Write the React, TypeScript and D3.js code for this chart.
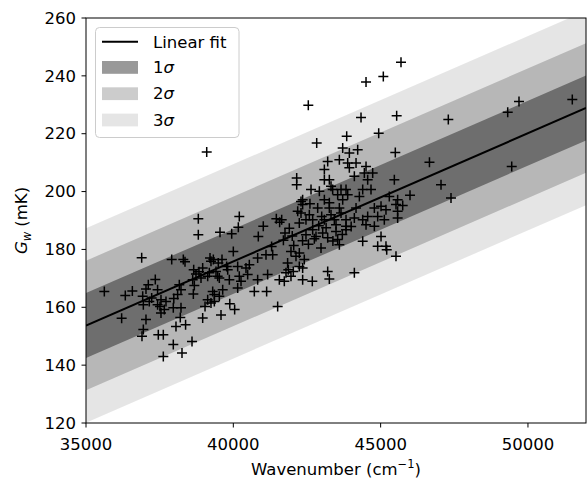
import React from 'react';
import * as d3 from 'd3';

// measured wavenumbers (cm^-1) and widths G_w (mK)
const waveNumbers = [
  35622, 36210, 36334, 36573, 36890, 36924, 36946, 37036, 37115, 36946,
  36900, 37036, 37148, 37229, 37352, 37430, 37430, 37454, 37545, 37511,
  37545, 37624, 37624, 37658, 37715, 37909, 37963, 37980, 37963, 38054,
  38110, 38167, 38224, 38224, 38200, 38380, 38258, 38598, 38360, 38303,
  38655, 38733, 38621, 38677, 38643, 38835, 38812, 38812, 38960, 39040,
  38903, 38960, 39097, 39130, 39186, 39209, 39322, 39412, 39469, 39525,
  39242, 39548, 39491, 39616, 39775, 39809, 39865, 39130, 39356, 39300,
  39639, 39525, 39242, 39356, 39582, 39880, 40045, 39945, 40000, 40203,
  40170, 40148, 40203, 40148, 40430, 40543, 40487, 40261, 40713, 40826,
  40826, 40848, 41017, 41109, 41336, 41165, 41131, 41505, 41460, 41572,
  41562, 41731, 41788, 41866, 42036, 41843, 41957, 41754, 41642, 41957,
  42127, 42151, 42151, 42297, 42185, 42353, 42353, 42353, 42353, 42297,
  42580, 42240, 42466, 42693, 42693, 42466, 42806, 42409, 42240, 42240,
  42637, 42920, 42863, 42545, 42830, 42681, 42976, 43090, 43203, 43090,
  43259, 43316, 43372, 43090, 43259, 43259, 43090, 43033, 43203, 43316,
  43429, 43486, 43486, 43542, 43599, 43203, 43259, 43542, 43599, 43655,
  43655, 43712, 43599, 43712, 43848, 43938, 43882, 43938, 43825, 43882,
  43825, 43825, 43825, 44221, 44165, 44108, 44504, 44447, 44730, 44560,
  44391, 44673, 44278, 44165, 44787, 44108, 44391, 44560, 44900, 44504,
  44787, 44391, 44900, 44108, 44334, 44504, 44934, 45091, 45691, 45544,
  45498, 45465, 45013, 45181, 45521, 45577, 45577, 45294, 45577, 45125,
  45013, 45181, 45206, 45521, 45749, 45997, 46657, 47049, 47388, 47297,
  49313, 49696, 51505, 49449,
  41300, 41700, 42000, 42550, 42900, 43150, 43380, 42750, 43000, 42350,
  41900, 42600, 43700, 44000, 42050,
];
const gwValues = [
  165.5, 156.2, 164.1, 165.6, 177.1, 163.8, 160.9, 166.3, 167.8, 152.3,
  150.0, 155.8, 162.0, 163.2, 169.6, 166.1, 160.9, 150.5, 162.6, 160.3,
  158.0, 150.5, 143.0, 159.2, 162.0, 176.5, 147.1, 163.0, 159.8, 153.4,
  164.4, 167.8, 166.1, 159.8, 156.5, 154.0, 144.2, 148.2, 175.7, 176.5,
  173.0, 171.5, 169.5, 167.5, 164.6, 172.3, 185.1, 190.6, 156.3, 160.3,
  170.1, 173.6, 213.7, 170.7, 171.9, 177.0, 176.5, 172.4, 170.7, 170.1,
  175.9, 185.9, 175.3, 176.5, 174.1, 173.0, 169.5, 162.6, 164.4, 165.5,
  166.1, 163.8, 161.5, 162.0, 157.3, 161.2, 159.2, 185.4, 179.3, 191.4,
  187.7, 174.1, 170.7, 166.7, 173.6, 174.7, 171.3, 169.0, 165.5, 169.5,
  177.0, 184.5, 188.0, 178.2, 178.2, 171.3, 165.5, 160.3, 190.6, 189.4,
  169.5, 169.0, 171.9, 173.0, 172.4, 175.3, 179.3, 185.7, 190.3, 170.7,
  177.6, 204.7, 202.4, 196.6, 193.2, 173.6, 169.5, 197.2, 195.5, 192.6,
  192.0, 189.1, 190.3, 190.3, 186.8, 185.1, 184.5, 176.5, 178.8, 174.1,
  200.7, 200.1, 194.3, 229.8, 216.8, 169.0, 180.5, 207.6, 210.4, 204.1,
  204.1, 201.8, 200.7, 197.2, 196.1, 194.3, 190.3, 185.7, 184.0, 192.0,
  190.3, 188.5, 186.2, 183.4, 181.6, 172.4, 169.8, 198.9, 194.3, 192.6,
  200.7, 197.2, 211.0, 215.1, 219.1, 213.3, 209.9, 208.2, 200.7, 198.9,
  190.3, 188.0, 186.8, 214.5, 209.9, 205.3, 208.7, 206.4, 206.4, 204.1,
  200.7, 200.7, 198.3, 194.3, 194.3, 190.9, 190.3, 191.4, 191.4, 188.5,
  188.0, 182.8, 181.1, 171.9, 225.6, 237.9, 220.2, 239.8, 244.7, 226.2,
  213.5, 204.1, 194.9, 193.7, 195.5, 193.2, 190.9, 198.3, 197.2, 190.3,
  184.5, 181.1, 179.9, 177.6, 195.2, 198.7, 210.1, 202.4, 197.8, 224.9,
  227.4, 231.1, 231.8, 208.7,
  181.0, 183.2, 184.6, 181.8, 188.2, 187.5, 182.9, 183.7, 191.4, 183.0,
  187.3, 195.8, 185.2, 187.9, 181.4,
];

// linear fit and its standard deviation
const fitIntercept = 153.7; // value at 35000 cm^-1
const fitSlope = 0.004431;
const fitSigma = 11.2;
const sigmaLevels = [3, 2, 1];
const sigmaAlpha = [0.1, 0.2, 0.4];

const xTicks = [35000, 40000, 45000, 50000];
const yTicks = [120, 140, 160, 180, 200, 220, 240, 260];
const xDomain = [35000, 51970];
const yDomain = [120, 260];

const W = 587;
const H = 483;
const margin = { left: 86, top: 18, right: 1, bottom: 60 };
const font = 'DejaVu Sans, sans-serif';

export default function App() {
  const width = W - margin.left - margin.right;
  const height = H - margin.top - margin.bottom;
  const x = d3.scaleLinear().domain(xDomain).range([0, width]);
  const y = d3.scaleLinear().domain(yDomain).range([height, 0]);
  const fit = (w: number) => fitIntercept + fitSlope * (w - 35000);

  const band = (n: number) =>
    d3
      .area<number>()
      .x(d => x(d))
      .y0(d => y(fit(d) - n * fitSigma))
      .y1(d => y(fit(d) + n * fitSigma))(xDomain);
  const fitLine = d3
    .line<number>()
    .x(d => x(d))
    .y(d => y(fit(d)))(xDomain);

  const points = waveNumbers.map((w, i) => ({ w, g: gwValues[i] }));
  const s = 5;

  return (
    <svg
      width={W}
      height={H}
      style={{ position: 'absolute', left: 0, top: 0, background: 'white' }}
      fontFamily={font}
    >
      <defs>
        <clipPath id="plot-clip">
          <rect x={0} y={0} width={width} height={height} />
        </clipPath>
      </defs>
      <g transform={`translate(${margin.left},${margin.top})`}>
        <g clipPath="url(#plot-clip)">
          {sigmaLevels.map((n, i) => (
            <path key={n} d={band(n) || ''} fill="black" fillOpacity={sigmaAlpha[i]} />
          ))}
          <path d={fitLine || ''} fill="none" stroke="black" strokeWidth={2} />
          {points.map((p, i) => (
            <path
              key={i}
              d={`M${x(p.w) - s},${y(p.g)}H${x(p.w) + s}M${x(p.w)},${y(p.g) - s}V${y(p.g) + s}`}
              stroke="black"
              strokeWidth={1.5}
              fill="none"
            />
          ))}
        </g>
        <rect x={0} y={0} width={width} height={height} fill="none" stroke="black" strokeWidth={1} />

        {xTicks.map(t => (
          <g key={t} transform={`translate(${x(t)},${height})`}>
            <line y2={4.5} stroke="black" strokeWidth={1} />
            <text y={27} textAnchor="middle" fontSize={16.5}>
              {t}
            </text>
          </g>
        ))}
        {yTicks.map(t => (
          <g key={t} transform={`translate(0,${y(t)})`}>
            <line x2={-4.5} stroke="black" strokeWidth={1} />
            <text x={-10} dy="0.35em" textAnchor="end" fontSize={16.5}>
              {t}
            </text>
          </g>
        ))}

        <text x={width / 2} y={height + 52} textAnchor="middle" fontSize={16.5}>
          Wavenumber (cm
          <tspan dy={-7} fontSize={11.5}>−1</tspan>
          <tspan dy={7}>)</tspan>
        </text>
        <text transform={`translate(${-59},${height / 2}) rotate(-90)`} textAnchor="middle" fontSize={16.5}>
          <tspan fontStyle="italic">G</tspan>
          <tspan fontStyle="italic" fontSize={11.5} dy={4}>w</tspan>
          <tspan dy={-4}> (mK)</tspan>
        </text>

        <g transform="translate(9.5,9.5)">
          <rect width={143.5} height={110} rx={4} fill="white" fillOpacity={0.8} stroke="#cccccc" strokeWidth={1} />
          <line x1={6.5} x2={42.5} y1={14.3} y2={14.3} stroke="black" strokeWidth={2} />
          <text x={57.5} y={20.7} fontSize={16.5}>Linear fit</text>
          {[1, 2, 3].map((n, i) => (
            <g key={n} transform={`translate(0,${33.5 + i * 26.3})`}>
              <rect x={6.5} width={36} height={12.8} fill="black" fillOpacity={sigmaAlpha[2 - i]} />
              <text x={57.5} y={12} fontSize={16.5}>
                {n}
                <tspan fontStyle="italic">σ</tspan>
              </text>
            </g>
          ))}
        </g>
      </g>
    </svg>
  );
}
